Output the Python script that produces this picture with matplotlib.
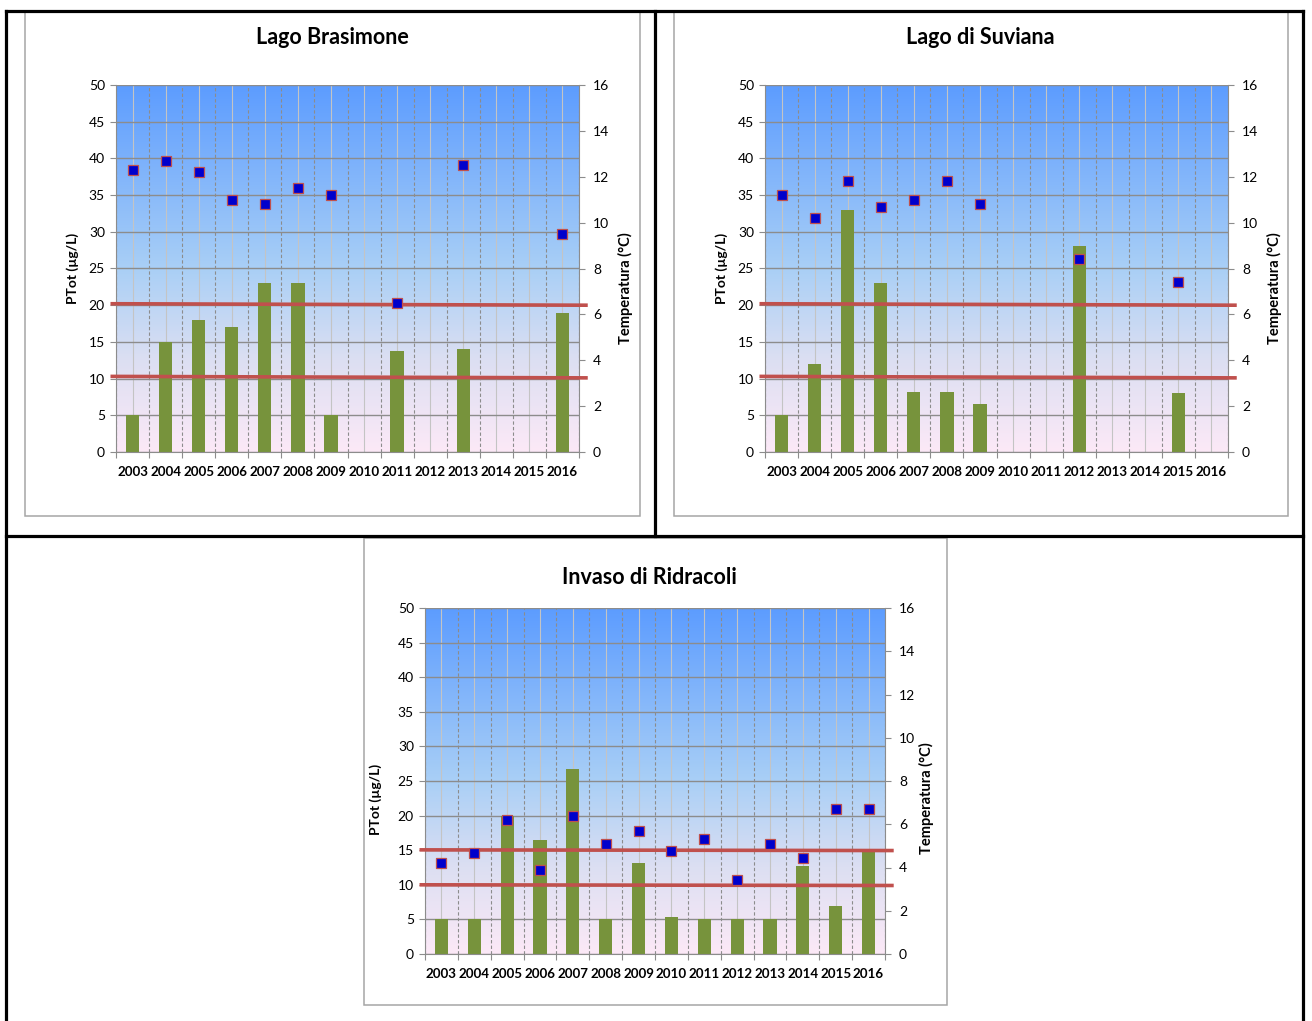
import numpy as np
import matplotlib
matplotlib.use('Agg')
import matplotlib.pyplot as plt
from matplotlib.colors import LinearSegmentedColormap
from matplotlib.lines import Line2D
from matplotlib.patches import Rectangle
import matplotlib.transforms as mtransforms

plt.rcParams['font.family'] = ['Lato', 'DejaVu Sans']

years = ['2003', '2004', '2005', '2006', '2007', '2008', '2009',
         '2010', '2011', '2012', '2013', '2014', '2015', '2016']
nan = np.nan

# total phosphorus (ug/L), one value per year, nan = not sampled
brasimone_ptot = [5, 15, 18, 17, 23, 23, 5, nan, 13.7, nan, 14, nan, nan, 19]
suviana_ptot = [5, 12, 33, 23, 8.2, 8.2, 6.6, nan, nan, 28, nan, nan, 8, nan]
ridracoli_ptot = [5, 5, 20, 16.5, 26.7, 5, 13.2, 5.3, 5, 5, 5, 12.7, 7, 15]

# water temperature (deg C)
brasimone_temp = [12.3, 12.7, 12.2, 11.0, 10.8, 11.5, 11.2, nan, 6.5, nan, 12.5, nan, nan, 9.5]
suviana_temp = [11.2, 10.2, 11.8, 10.7, 11.0, 11.8, 10.8, nan, nan, 8.4, nan, nan, 7.4, nan]
ridracoli_temp = [4.2, 4.67, 6.2, 3.9, 6.4, 5.1, 5.7, 4.77, 5.3, 3.42, 5.1, 4.45, 6.7, 6.7]

# class limit lines (left end, right end) in ug/L
brasimone_limits = [(20.2, 20.0), (10.3, 10.1)]
suviana_limits = [(20.2, 20.0), (10.3, 10.1)]
ridracoli_limits = [(15.05, 14.95), (10.0, 9.9)]

W, H = 1312, 1021
green = '#77933C'
red = '#C0504D'
grid_col = '#8C8C8C'

bg_cmap = LinearSegmentedColormap.from_list(
    'bg', [(0.0, '#FCE9F7'), (0.25, '#DCDFF2'), (0.5, '#A9CFF6'), (1.0, '#5C9CFF')])


def fx(x):
    return x / W


def fy(y):
    return 1 - y / H


def fig_line(fig, x0, y0, x1, y1, **kw):
    fig.add_artist(Line2D([fx(x0), fx(x1)], [fy(y0), fy(y1)], transform=fig.transFigure, **kw))


def draw_chart(fig, frame, plot, title, title_xy, ylab_l, ylab_r, ptot, temp, limits):
    # chart frame
    fig.add_artist(Rectangle((fx(frame[0]), fy(frame[3])), fx(frame[2] - frame[0]),
                             (frame[3] - frame[1]) / H, transform=fig.transFigure,
                             fill=False, edgecolor='#A6A6A6', lw=1.1))

    ax = fig.add_axes([fx(plot[0]), fy(plot[3]), fx(plot[2] - plot[0]), (plot[3] - plot[1]) / H])
    n = len(years)
    x = np.arange(n)
    ax.imshow(np.linspace(0, 1, 256).reshape(-1, 1), extent=[-0.5, n - 0.5, 0, 50],
              origin='lower', aspect='auto', cmap=bg_cmap, zorder=0)
    ax.set_xlim(-0.5, n - 0.5)
    ax.set_ylim(0, 50)

    # grid: solid at category centres, dashed at boundaries
    for xv in x:
        ax.axvline(xv, color='#C4C4C4', lw=0.8, zorder=1)
    for xv in np.arange(n + 1) - 0.5:
        ax.axvline(xv, color=grid_col, lw=0.8, ls=(0, (3, 2)), zorder=1)
    for yv in range(0, 51, 5):
        ax.axhline(yv, color=grid_col, lw=1.0, zorder=1)

    ax.bar(x, ptot, width=0.4, color=green, zorder=2)

    trans = mtransforms.blended_transform_factory(ax.transAxes, ax.transData)
    for y_left, y_right in limits:
        ax.plot([-0.008, 1.015], [y_left, y_right], transform=trans, color=red,
                lw=2.6, clip_on=False, zorder=3)

    ax.set_yticks(range(0, 51, 5))
    ax.set_xticks(x)
    ax.set_xticklabels(years, fontweight='bold', fontsize=9.6)
    ax.set_xticks(np.arange(n + 1) - 0.5, minor=True)
    ax.tick_params(axis='x', which='major', length=0, pad=10)
    ax.tick_params(axis='x', which='minor', length=4, color=grid_col, width=0.8)
    ax.tick_params(axis='y', length=4, color=grid_col, width=0.8, labelsize=10, pad=4)
    for s in ax.spines.values():
        s.set_color(grid_col)
        s.set_linewidth(0.8)
    ax.spines['top'].set_visible(False)

    ax2 = ax.twinx()
    ax2.set_ylim(0, 16)
    ax2.set_yticks(range(0, 17, 2))
    ax2.tick_params(axis='y', length=4, color=grid_col, width=0.8, labelsize=10, pad=6)
    for s in ax2.spines.values():
        s.set_visible(False)
    ax2.plot(x, temp, ls='none', marker='s', ms=6.5, mfc='#0000CC', mec=red, mew=0.9, zorder=4)

    fig.text(fx(title_xy[0]), fy(title_xy[1]), title, ha='center', va='center',
             fontsize=15.5, fontweight='bold')
    fig.text(fx(ylab_l[0]), fy(ylab_l[1]), 'PTot (µg/L)', ha='center', va='center',
             rotation=90, fontsize=10, fontweight='bold')
    fig.text(fx(ylab_r[0]), fy(ylab_r[1]), 'Temperatura (°C)', ha='center', va='center',
             rotation=90, fontsize=10.5, fontweight='bold')


fig = plt.figure(figsize=(W / 100, H / 100), dpi=100)

# table cell borders
bk = dict(color='black', lw=2.3, solid_capstyle='projecting')
fig_line(fig, 6, 11, 1303, 11, **bk)
fig_line(fig, 6, 536, 1303, 536, **bk)
fig_line(fig, 6, 11, 6, 1021, **bk)
fig_line(fig, 1303, 11, 1303, 1021, **bk)
fig_line(fig, 655, 11, 655, 536, **bk)

draw_chart(fig, (25, 12, 640, 516), (116, 85, 579, 452), 'Lago Brasimone', (332, 38),
           (73, 268), (625, 288), brasimone_ptot, brasimone_temp, brasimone_limits)
draw_chart(fig, (674, 12, 1288, 516), (765, 85, 1228, 452), 'Lago di Suviana', (980, 38),
           (722, 268), (1274, 288), suviana_ptot, suviana_temp, suviana_limits)
draw_chart(fig, (364, 538, 947, 1005), (425, 608, 885, 954), 'Invaso di Ridracoli', (649, 577),
           (376, 799), (926, 798), ridracoli_ptot, ridracoli_temp, ridracoli_limits)

fig.savefig('out.png', dpi=100)
